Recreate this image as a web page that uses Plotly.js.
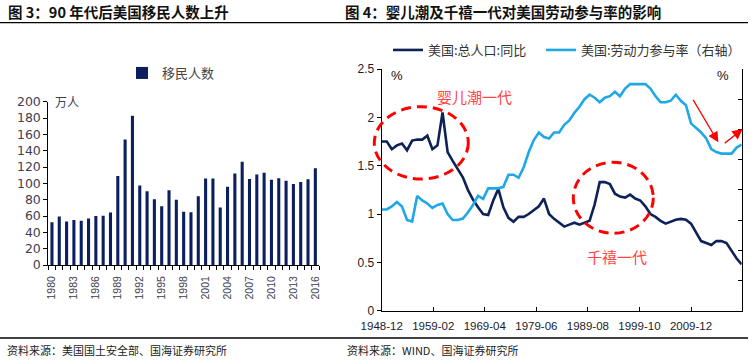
<!DOCTYPE html>
<html><head><meta charset="utf-8">
<script src="https://cdn.plot.ly/plotly-3.0.1.min.js"></script>
<style>html,body{margin:0;padding:0;background:#fff}#chart{width:756px;height:360px}</style>
</head><body><div id="chart"></div>
<script>
// ---- Left chart data: US immigrants (万人) ----
const immYears = [1980,1981,1982,1983,1984,1985,1986,1987,1988,1989,1990,1991,1992,1993,1994,1995,1996,1997,1998,1999,2000,2001,2002,2003,2004,2005,2006,2007,2008,2009,2010,2011,2012,2013,2014,2015,2016];
const immigrants = [52.4,59.5,53.4,55.0,54.2,56.8,60.0,60.2,64.3,109.0,153.6,182.7,97.4,90.4,80.4,72.0,91.6,79.8,65.3,64.5,84.1,105.9,105.9,70.4,95.8,112.2,126.6,105.2,110.7,113.1,104.3,106.2,103.2,99.1,101.7,105.1,118.4];
const immTickYears = [1980,1983,1986,1989,1992,1995,1998,2001,2004,2007,2010,2013,2016];

// ---- Right chart data ----
const lineStartYear = 1948; // one point per year, dated December
const popGrowth = [1.75,1.75,1.67,1.71,1.73,1.66,1.76,1.77,1.77,1.81,1.67,1.71,2.05,1.64,1.55,1.46,1.38,1.25,1.15,1.07,1.00,0.99,1.14,1.26,1.07,0.96,0.92,0.97,0.97,1.00,1.04,1.08,1.16,1.00,0.95,0.91,0.87,0.89,0.91,0.89,0.91,0.93,1.10,1.33,1.33,1.31,1.21,1.18,1.17,1.20,1.16,1.14,1.08,1.00,0.97,0.93,0.90,0.92,0.94,0.95,0.94,0.90,0.81,0.72,0.70,0.68,0.72,0.72,0.70,0.62,0.54,0.48];
const lfpr = [58.7,58.7,58.9,59.2,58.9,58.0,57.9,59.6,59.3,59.1,58.8,59.0,59.1,58.4,58.0,58.0,58.1,58.5,59.0,59.6,59.4,60.1,60.1,60.1,60.2,61.0,61.0,60.8,61.5,62.5,63.3,63.8,63.5,63.4,63.8,63.8,64.3,64.6,65.1,65.5,66.0,66.3,66.1,65.8,66.1,66.2,66.5,66.2,66.7,67.0,67.0,67.0,67.0,66.7,66.2,65.8,65.8,65.9,66.3,65.9,65.6,64.4,64.1,63.8,63.4,62.7,62.5,62.4,62.4,62.4,62.8,63.0];
const lineTickText = ['1948-12','1959-02','1969-04','1979-06','1989-08','1999-10','2009-12'];

const lineDates = popGrowth.map((_, i) => (lineStartYear + i) + '-12-01');
const lineTickVals = lineTickText.map(t => t + '-01');

const W = 756, H = 360;
const px = x => x / W;
const py = y => 1 - y / H;

const LATIN = "'Liberation Sans', Arial, 'Noto Sans CJK SC', sans-serif";
const CJK = "'Noto Sans CJK SC', 'Liberation Sans', sans-serif";

const traces = [
  {type:'bar', x: immYears, y: immigrants, name:'移民人数', xaxis:'x', yaxis:'y',
   marker:{color:'#0B1F5E', line:{width:0}}, width:0.42, legend:'legend', hoverinfo:'x+y'},
  {type:'scatter', mode:'lines', x: lineDates, y: popGrowth, name:'美国:总人口:同比',
   xaxis:'x2', yaxis:'y2', line:{color:'#0E2258', width:2.6}, legend:'legend2'},
  {type:'scatter', mode:'lines', x: lineDates, y: lfpr, name:'美国:劳动力参与率（右轴）',
   xaxis:'x2', yaxis:'y3', line:{color:'#1FA8E6', width:2.6}, legend:'legend3'}
];

const layout = {
  width: W, height: H, autosize:false,
  margin:{l:0,r:0,t:0,b:0},
  paper_bgcolor:'#fff', plot_bgcolor:'rgba(0,0,0,0)',
  font:{family: LATIN, color:'#222'},
  showlegend:true,
  xaxis:{domain:[px(48.3), px(319)], range:[1979.5, 2016.5], anchor:'y',
    tickmode:'array', tickvals: immTickYears, ticktext: immTickYears.map(String),
    tickangle:-90, ticks:'', ticklabelstandoff:6,
    tickfont:{size:10.5, color:'#404050', family: LATIN},
    showline:true, linecolor:'#000', linewidth:1, showgrid:false, zeroline:false,
    minor:{tickmode:'linear', tick0:1979.5, dtick:1, ticks:'outside', ticklen:4, tickcolor:'#000', tickwidth:1, showgrid:false}},
  yaxis:{domain:[py(265), py(101.7)], range:[0,200], dtick:20, anchor:'x',
    ticks:'outside', ticklen:4, tickcolor:'#000', ticklabelstandoff:0,
    tickfont:{size:12.5, color:'#404050', family:"'DejaVu Sans', sans-serif"},
    showline:true, linecolor:'#000', linewidth:1, showgrid:false, zeroline:false},
  xaxis2:{domain:[px(381.7), px(741.7)], type:'date', anchor:'y2',
    range:[lineDates[0], lineDates[lineDates.length-1]],
    tickmode:'array', tickvals: lineTickVals, ticktext: lineTickText,
    ticks:'inside', ticklen:4, tickcolor:'#000', ticklabelstandoff:4,
    tickfont:{size:11.5, color:'#1a1a2a'},
    showline:true, linecolor:'#000', linewidth:1, showgrid:false, zeroline:false},
  yaxis2:{domain:[py(310.7), py(69)], range:[0,2.5], dtick:0.5, anchor:'x2',
    ticks:'outside', ticklen:4, tickcolor:'#000',
    tickfont:{size:12, color:'#1a1a2a'},
    showline:true, linecolor:'#000', linewidth:1, showgrid:false, zeroline:false},
  yaxis3:{overlaying:'y2', side:'right', anchor:'x2', range:[52,68], dtick:2,
    ticks:'inside', ticklen:4, tickcolor:'#000', showticklabels:false,
    showline:true, linecolor:'#000', linewidth:1, showgrid:false, zeroline:false},
  legend:{x:px(122), y:py(73), xanchor:'left', yanchor:'middle', bgcolor:'rgba(0,0,0,0)',
    font:{size:13, color:'#444', family: CJK}},
  legend2:{x:px(388), y:py(50), xanchor:'left', yanchor:'middle', bgcolor:'rgba(0,0,0,0)',
    font:{size:13, color:'#333', family: CJK}},
  legend3:{x:px(541), y:py(50), xanchor:'left', yanchor:'middle', bgcolor:'rgba(0,0,0,0)',
    font:{size:13, color:'#333', family: CJK}},
  shapes:[
    {type:'line', xref:'paper', yref:'paper', x0:0, x1:px(748), y0:py(22.7), y1:py(22.7), line:{color:'#000', width:1.3}},
    {type:'line', xref:'paper', yref:'paper', x0:0, x1:px(748), y0:py(338), y1:py(338), line:{color:'#000', width:1.3}},
    {type:'circle', xref:'paper', yref:'paper', x0:px(374.3), x1:px(468.3), y0:py(179), y1:py(106.7),
     line:{color:'#FF0000', width:3, dash:'10px,6px'}},
    {type:'circle', xref:'paper', yref:'paper', x0:px(573.3), x1:px(653.3), y0:py(233.3), y1:py(162.3),
     line:{color:'#FF0000', width:3, dash:'10px,6px'}}
  ],
  annotations:[
    {xref:'paper', yref:'paper', x:px(6), y:py(11.5), xanchor:'left', yanchor:'middle', showarrow:false,
     text:'<b>图 3：90 年代后美国移民人数上升</b>', font:{size:14.5, color:'#111', family: CJK}},
    {xref:'paper', yref:'paper', x:px(343), y:py(11.5), xanchor:'left', yanchor:'middle', showarrow:false,
     text:'<b>图 4：婴儿潮及千禧一代对美国劳动参与率的影响</b>', font:{size:14.5, color:'#111', family: CJK}},
    {xref:'paper', yref:'paper', x:px(5), y:py(350), xanchor:'left', yanchor:'middle', showarrow:false,
     text:'资料来源：美国国土安全部、国海证券研究所', font:{size:11, color:'#222', family: CJK}},
    {xref:'paper', yref:'paper', x:px(345), y:py(350), xanchor:'left', yanchor:'middle', showarrow:false,
     text:'资料来源：WIND、国海证券研究所', font:{size:11, color:'#222', family: CJK}},
    {xref:'paper', yref:'paper', x:px(53), y:py(101), xanchor:'left', yanchor:'middle', showarrow:false,
     text:'万人', font:{size:12, color:'#404050', family: CJK}},
    {xref:'paper', yref:'paper', x:px(396.7), y:py(75), xanchor:'center', yanchor:'middle', showarrow:false,
     text:'%', font:{size:13, color:'#111'}},
    {xref:'paper', yref:'paper', x:px(722.7), y:py(75), xanchor:'center', yanchor:'middle', showarrow:false,
     text:'%', font:{size:13, color:'#111'}},
    {xref:'paper', yref:'paper', x:px(474), y:py(96.7), xanchor:'center', yanchor:'middle', showarrow:false,
     text:'婴儿潮一代', font:{size:15, color:'#FF4545', family: CJK}},
    {xref:'paper', yref:'paper', x:px(616.7), y:py(256.7), xanchor:'center', yanchor:'middle', showarrow:false,
     text:'千禧一代', font:{size:15, color:'#FF4545', family: CJK}},
    {xref:'paper', yref:'paper', x:px(718.3), y:py(142.3), ax:-26, ay:-44, showarrow:true, text:'',
     arrowhead:2, arrowsize:1.6, arrowwidth:1.3, arrowcolor:'#FF0000'},
    {xref:'paper', yref:'paper', x:px(742.7), y:py(129), ax:-19.4, ay:15.3, showarrow:true, text:'',
     arrowhead:2, arrowsize:1.6, arrowwidth:1.3, arrowcolor:'#FF0000'}
  ]
};

Plotly.newPlot('chart', traces, layout, {displayModeBar:false, staticPlot:true});
</script>
</body></html>
